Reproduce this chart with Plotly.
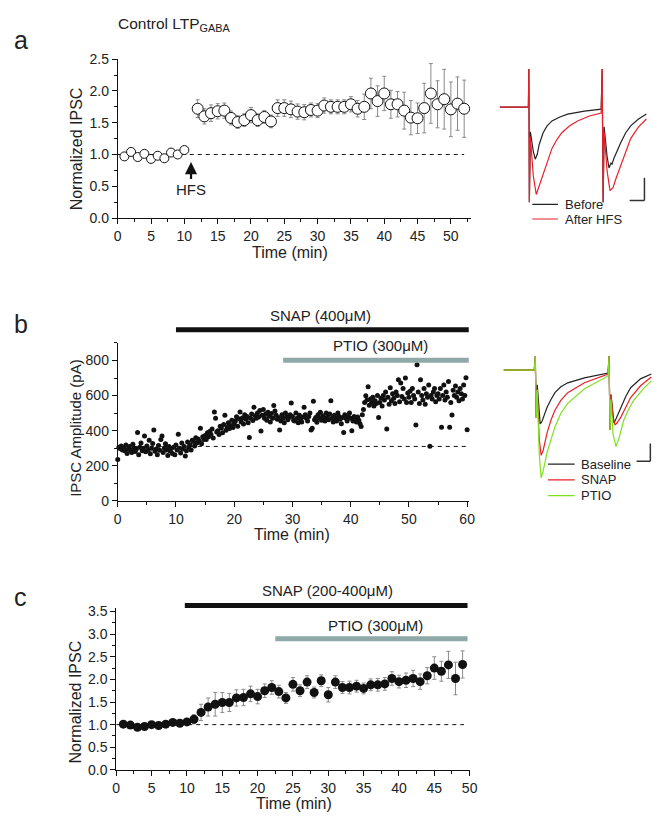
import plotly.graph_objects as go

W, H = 670, 831
OFF = 8  # page body margin offset
FONT = "Liberation Sans, Arial, sans-serif"

# ---------------- Panel a data (Control LTP_GABA) ----------------
a_time_base = [1, 2, 3, 4, 5, 6, 7, 8, 9, 10]
a_ipsc_base = [0.97, 1.04, 0.96, 1.01, 0.93, 0.98, 0.94, 1.03, 1.00, 1.07]
a_err_base = [0.03, 0.03, 0.03, 0.03, 0.04, 0.03, 0.03, 0.03, 0.03, 0.03]

a_time_post = list(range(12, 53))
a_ipsc_post = [1.72, 1.60, 1.65, 1.68, 1.69, 1.575, 1.51, 1.54, 1.62, 1.54, 1.59, 1.52,
               1.73, 1.73, 1.71, 1.675, 1.665, 1.70, 1.69, 1.77, 1.75, 1.75, 1.75, 1.79, 1.72, 1.75,
               1.96, 1.84, 1.96, 1.79, 1.79, 1.69, 1.58, 1.57, 1.73, 1.96, 1.79, 1.87, 1.71, 1.80, 1.72]
a_err_post = [0.14, 0.12, 0.13, 0.12, 0.12, 0.11, 0.10, 0.10, 0.12, 0.10, 0.10, 0.10,
              0.13, 0.13, 0.13, 0.12, 0.12, 0.11, 0.11, 0.12, 0.11, 0.11, 0.11, 0.12, 0.13, 0.20,
              0.24, 0.24, 0.27, 0.22, 0.20, 0.29, 0.27, 0.24, 0.39, 0.47, 0.37, 0.47, 0.43, 0.42, 0.45]
a_hfs_time = 11
a_xticks = [0, 5, 10, 15, 20, 25, 30, 35, 40, 45, 50]
a_yticks = [0.0, 0.5, 1.0, 1.5, 2.0, 2.5]

# Example traces, panel a (time in a.u., current in a.u.)
a_before_t = [4, 20, 33, 33.5, 34, 35, 38, 40, 42, 44, 48, 52, 57, 65, 73, 90, 107,
              108, 109, 110, 113, 115, 117, 118, 120, 127, 132, 137, 145, 153]
a_before_i = [0, 0, 0, 39, -97, -25, -45, -53, -48, -38, -26, -19, -14, -10, -7, -4, -2,
              39, -97, -20, -50, -62, -57, -58, -52, -36, -26, -19, -12, -7]
a_after_t = [4, 20, 33, 33.5, 34, 35, 38, 41, 44, 48, 52, 57, 62, 67, 75, 83, 95, 107,
             108, 109, 110, 113, 116, 119, 122, 127, 132, 137, 145, 153]
a_after_i = [0, 0, 0, 39, -97, -30, -70, -89, -80, -69, -55, -42, -33, -26, -19, -14, -9, -6,
             39, -97, -25, -65, -85, -82, -73, -59, -44, -32, -20, -12]

# ---------------- Panel b data (SNAP / PTIO, single cell) ----------------
b_step = 0.2
b_amp = [
    236, 305, 298, 312, 290, 301, 285, 318, 270, 296, 310, 288, 275, 322, 300, 281, 295, 389, 262, 306, 330, 286, 298, 370, 279,
    312, 290, 345, 268, 300, 327, 404, 283, 296, 262, 315, 288, 350, 370, 276, 301, 325, 290, 258, 310, 284, 298, 270, 305, 262,
    318, 290, 380, 300, 272, 330, 296, 310, 256, 285, 335, 305, 320, 290, 345, 338, 312, 360, 330, 352, 341, 413, 325, 365, 350,
    372, 350, 388, 365, 395, 380, 410, 358, 506, 470, 392, 400, 378, 425, 415, 388, 435, 488, 402, 420, 445, 412, 430, 460, 418,
    440, 455, 479, 425, 468, 506, 450, 472, 438, 490, 465, 480, 445, 361, 470, 495, 458, 534, 485, 470, 500, 478, 515, 398, 488,
    521, 470, 495, 460, 505, 482, 450, 498, 470, 543, 512, 488, 465, 475, 404, 455, 490, 470, 445, 500, 480, 462, 475, 490, 557,
    480, 460, 455, 500, 470, 445, 488, 465, 450, 478, 534, 490, 470, 455, 480, 500, 404, 413, 568, 462, 475, 448, 490, 470, 505,
    460, 485, 470, 455, 500, 478, 462, 495, 571, 470, 450, 488, 470, 455, 500, 480, 465, 440, 475, 389, 490, 470, 455, 480, 500,
    470, 400, 455, 480, 465, 450, 478, 460, 440, 423, 490, 520, 560, 599, 575, 650, 545, 580, 560, 590, 540, 570, 555, 600, 475,
    560, 585, 540, 600, 575, 620, 409, 590, 550, 645, 570, 610, 585, 555, 620, 600, 690, 565, 672, 595, 640, 580, 700, 560, 615,
    590, 625, 560, 640, 600, 580, 432, 776, 620, 555, 690, 600, 575, 640, 550, 610, 590, 660, 311, 600, 580, 620, 640, 565, 600,
    610, 580, 640, 419, 600, 660, 575, 620, 590, 680, 419, 560, 489, 630, 600, 655, 590, 620, 570, 640, 610, 580, 660, 600, 702,
    405,
]
b_time = [round(i * b_step, 2) for i in range(len(b_amp))]
b_baseline = 310
b_snap = [10, 60.3]
b_ptio = [28.4, 60.3]
b_xticks = [0, 10, 20, 30, 40, 50, 60]
b_yticks = [0, 200, 400, 600, 800]

# Example traces, panel b
b_base_t = [8, 39, 40, 41, 42, 44, 45, 47, 52, 56, 60, 66, 73, 90, 114,
            115, 116, 117, 119, 120, 122, 127, 132, 137, 147, 158]
b_base_i = [0, 0, 14, -49, -15, -45, -55, -52, -38, -30, -23, -17, -13, -8, -3,
            14, -61, -25, -45, -54, -50, -38, -27, -18, -9, -4]
b_snap_t = [8, 39, 40, 41, 42, 44, 46, 48, 52, 56, 60, 66, 73, 90, 114,
            115, 116, 117, 119, 121, 123, 127, 132, 137, 147, 158]
b_snap_i = [0, 0, 14, -49, -20, -70, -87, -82, -64, -51, -41, -31, -23, -13, -4,
            14, -61, -25, -48, -56, -54, -48, -38, -28, -16, -7]
b_ptio_t = [8, 39, 40, 41, 42, 44, 46, 48, 52, 56, 60, 66, 73, 90, 114,
            115, 116, 117, 119, 122, 125, 130, 135, 140, 150, 158]
b_ptio_i = [0, 0, 14, -49, -20, -85, -110, -103, -84, -70, -58, -44, -34, -19, -6,
            14, -61, -30, -65, -78, -70, -51, -40, -31, -19, -11]

# ---------------- Panel c data (group SNAP 200-400 uM) ----------------
c_time = list(range(1, 50))
c_ipsc = [1.01, 0.99, 0.94, 0.96, 1.00, 0.98, 1.01, 1.05, 1.03, 1.06,
          1.12, 1.27, 1.39, 1.45, 1.49, 1.49, 1.59, 1.60, 1.68, 1.62,
          1.75, 1.82, 1.73, 1.59, 1.89, 1.75, 1.94, 1.71, 1.97, 1.66,
          1.94, 1.82, 1.82, 1.85, 1.80, 1.88, 1.88, 1.90, 2.02, 1.95,
          1.98, 2.02, 1.95, 2.08, 2.25, 2.18, 2.32, 2.02, 2.33]
c_err = [0.05, 0.04, 0.05, 0.04, 0.04, 0.04, 0.04, 0.05, 0.05, 0.06,
         0.10, 0.18, 0.20, 0.26, 0.22, 0.20, 0.18, 0.18, 0.17, 0.16,
         0.15, 0.15, 0.14, 0.12, 0.15, 0.13, 0.14, 0.12, 0.13, 0.16,
         0.14, 0.13, 0.14, 0.13, 0.12, 0.13, 0.14, 0.14, 0.15, 0.14,
         0.16, 0.18, 0.17, 0.18, 0.25, 0.22, 0.30, 0.36, 0.30]
c_snap = [9.7, 49.7]
c_ptio = [22.5, 49.7]
c_xticks = [0, 5, 10, 15, 20, 25, 30, 35, 40, 45, 50]
c_yticks = [0.0, 0.5, 1.0, 1.5, 2.0, 2.5, 3.0, 3.5]

BLACK = "#111111"
RED = "#e8202a"
GREEN = "#7fe01e"
PTIO_COL = "#8fa9a8"
ERR_COL = "#8a8a8a"


def py(y):
    return 1 - (y - OFF) / H


def px(x):
    return (x - OFF) / W


fig = go.Figure()

# ----- panel a -----
fig.add_trace(go.Scatter(x=[0, 52], y=[1, 1], mode="lines", xaxis="x", yaxis="y",
                         line=dict(color=BLACK, width=1, dash="4px,4px"), showlegend=False))
fig.add_trace(go.Scatter(x=a_time_base, y=a_ipsc_base, mode="markers", xaxis="x", yaxis="y",
                         error_y=dict(type="data", array=a_err_base, color=ERR_COL, thickness=1, width=2),
                         marker=dict(symbol="circle", size=9, color="white", line=dict(color=BLACK, width=1)),
                         showlegend=False))
fig.add_trace(go.Scatter(x=a_time_post, y=a_ipsc_post, mode="markers", xaxis="x", yaxis="y",
                         error_y=dict(type="data", array=a_err_post, color=ERR_COL, thickness=1, width=2),
                         marker=dict(symbol="circle", size=11, color="white", line=dict(color=BLACK, width=1)),
                         showlegend=False))

# ----- panel b -----
fig.add_trace(go.Scatter(x=[0, 60], y=[b_baseline, b_baseline], mode="lines", xaxis="x2", yaxis="y2",
                         line=dict(color=BLACK, width=1, dash="4px,4px"), showlegend=False))
fig.add_trace(go.Scatter(x=b_time, y=b_amp, mode="markers", xaxis="x2", yaxis="y2",
                         marker=dict(size=5, color=BLACK), showlegend=False, cliponaxis=False))

# ----- panel c -----
fig.add_trace(go.Scatter(x=[0, 49.2], y=[1, 1], mode="lines", xaxis="x3", yaxis="y3",
                         line=dict(color=BLACK, width=1, dash="4px,4px"), showlegend=False))
fig.add_trace(go.Scatter(x=c_time, y=c_ipsc, mode="markers", xaxis="x3", yaxis="y3",
                         error_y=dict(type="data", array=c_err, color=ERR_COL, thickness=1, width=2),
                         marker=dict(size=9, color=BLACK), showlegend=False))

# ----- example traces -----
fig.add_trace(go.Scatter(x=a_before_t, y=a_before_i, mode="lines", xaxis="x4", yaxis="y4",
                         line=dict(color="#222222", width=1.2), showlegend=False))
fig.add_trace(go.Scatter(x=a_after_t, y=a_after_i, mode="lines", xaxis="x4", yaxis="y4",
                         line=dict(color=RED, width=1.2), showlegend=False))
fig.add_trace(go.Scatter(x=b_base_t, y=b_base_i, mode="lines", xaxis="x5", yaxis="y5",
                         line=dict(color="#222222", width=1.2), showlegend=False))
fig.add_trace(go.Scatter(x=b_snap_t, y=b_snap_i, mode="lines", xaxis="x5", yaxis="y5",
                         line=dict(color=RED, width=1.2), showlegend=False))
fig.add_trace(go.Scatter(x=b_ptio_t, y=b_ptio_i, mode="lines", xaxis="x5", yaxis="y5",
                         line=dict(color=GREEN, width=1.2), showlegend=False))


def axis(domain, rng, ticks, minor, fs, anchor, fmt=None):
    d = dict(domain=domain, range=rng, tickvals=ticks, showline=True, linecolor=BLACK, linewidth=1,
             ticks="outside", ticklen=5, tickwidth=1, tickcolor=BLACK, showgrid=False, zeroline=False,
             tickfont=dict(family=FONT, size=fs, color="#222"), anchor=anchor,
             minor=dict(dtick=minor, ticks="outside", ticklen=3, tickcolor=BLACK, showgrid=False))
    if fmt:
        d["tickformat"] = fmt
    return d


hidden = dict(visible=False, showgrid=False, zeroline=False)

fig.update_layout(
    width=W, height=H, margin=dict(l=0, r=0, t=0, b=0),
    paper_bgcolor="white", plot_bgcolor="white",
    font=dict(family=FONT, color="#222"),
    xaxis=axis([px(115.5), px(474.5)], [0, 53], a_xticks, 2.5, 14, "y"),
    yaxis=axis([py(214), py(52)], [0, 2.5], a_yticks, 0.25, 14, "x", ".1f"),
    xaxis2=axis([px(115.5), px(472.5)], [0, 60.3], b_xticks, 5, 14, "y2"),
    yaxis2=axis([py(502.3), py(341.4)], [0, 900], b_yticks, 100, 14, "x2"),
    xaxis3=axis([px(114), px(474)], [0, 50.1], c_xticks, 2.5, 14, "y3"),
    yaxis3=axis([py(776.7), py(611.5)], [0, 3.58], c_yticks, 0.25, 14, "x3", ".1f"),
    xaxis4=dict(domain=[px(500), px(666)], range=[0, 166], anchor="y4", **hidden),
    yaxis4=dict(domain=[py(220), py(55)], range=[-119, 46], anchor="x4", **hidden),
    xaxis5=dict(domain=[px(500), px(666)], range=[0, 166], anchor="y5", **hidden),
    yaxis5=dict(domain=[py(505), py(345)], range=[-136, 24], anchor="x5", **hidden),
)

shapes = []
# drug application bars
for (rng, y, col, xr) in [(b_snap, 328, BLACK, "x2"), (b_ptio, 359, PTIO_COL, "x2"),
                          (c_snap, 609, BLACK, "x3"), (c_ptio, 643, PTIO_COL, "x3")]:
    shapes.append(dict(type="line", xref=xr, yref="paper", x0=rng[0], x1=rng[1], y0=py(y), y1=py(y),
                       line=dict(color=col, width=5)))
# scale bars and legend samples for example traces
shapes += [
    dict(type="line", xref="x4", yref="y4", x0=151, x1=151, y0=-72, y1=-95, line=dict(color="#333", width=1.5)),
    dict(type="line", xref="x4", yref="y4", x0=136, x1=151, y0=-95, y1=-95, line=dict(color="#333", width=1.5)),
    dict(type="line", xref="x4", yref="y4", x0=37, x1=63, y0=-99, y1=-99, line=dict(color="#222", width=1.2)),
    dict(type="line", xref="x4", yref="y4", x0=37, x1=63, y0=-114, y1=-114, line=dict(color=RED, width=1.2)),
    dict(type="line", xref="x5", yref="y5", x0=157, x1=157, y0=-75, y1=-93, line=dict(color="#333", width=1.5)),
    dict(type="line", xref="x5", yref="y5", x0=143, x1=157, y0=-93, y1=-93, line=dict(color="#333", width=1.5)),
    dict(type="line", xref="x5", yref="y5", x0=53, x1=80, y0=-96, y1=-96, line=dict(color="#222", width=1.2)),
    dict(type="line", xref="x5", yref="y5", x0=53, x1=80, y0=-112, y1=-112, line=dict(color=RED, width=1.2)),
    dict(type="line", xref="x5", yref="y5", x0=53, x1=80, y0=-128, y1=-128, line=dict(color=GREEN, width=1.2)),
]
fig.update_layout(shapes=shapes)


def txt(text, x, y, size, xanchor="center", angle=0, xref="paper", yref="paper", conv=True):
    return dict(text=text, x=px(x) if conv else x, y=py(y) if conv else y, xref=xref, yref=yref,
                showarrow=False, xanchor=xanchor, yanchor="middle", textangle=angle,
                font=dict(family=FONT, size=size, color="#222"))


ann = [
    txt("a", 17, 32, 25), txt("b", 17, 322, 25), txt("c", 17, 600, 25),
    txt("Control LTP<sub>GABA</sub>", 114, 17, 15.5, xanchor="left"),
    txt("Normalized IPSC", 73, 143, 16, angle=-90),
    txt("Time (min)", 291, 249, 16),
    txt("IPSC Amplitude (pA)", 73, 428, 15, angle=-90),
    txt("Time (min)", 293, 537, 16),
    txt("Normalized IPSC", 73, 707, 16, angle=-90),
    txt("Time (min)", 295, 811, 16),
    txt("SNAP (400μM)", 268, 313, 15, xanchor="left"),
    txt("PTIO (300μM)", 332, 344, 15, xanchor="left"),
    txt("SNAP (200-400μM)", 260, 594, 15, xanchor="left"),
    txt("PTIO (300μM)", 327, 629, 15, xanchor="left"),
    txt("Before", 68, -99, 13, xanchor="left", xref="x4", yref="y4", conv=False),
    txt("After HFS", 68, -114, 13, xanchor="left", xref="x4", yref="y4", conv=False),
    txt("Baseline", 84, -96, 13, xanchor="left", xref="x5", yref="y5", conv=False),
    txt("SNAP", 84, -112, 13, xanchor="left", xref="x5", yref="y5", conv=False),
    txt("PTIO", 84, -128, 13, xanchor="left", xref="x5", yref="y5", conv=False),
    dict(text="HFS", x=a_hfs_time, y=0.88, xref="x", yref="y", showarrow=True, ax=0, ay=27,
         arrowhead=2, arrowsize=1.1, arrowwidth=2.2, arrowcolor=BLACK, standoff=0,
         font=dict(family=FONT, size=15, color="#222")),
]
fig.update_layout(annotations=ann)

fig.write_html("out.html")
